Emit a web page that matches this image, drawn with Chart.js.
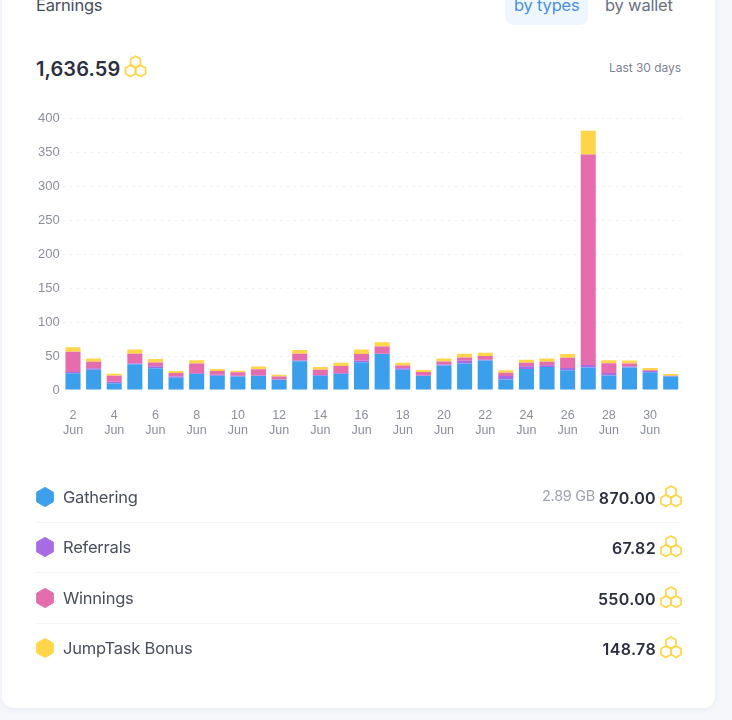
<!DOCTYPE html>
<html>
<head>
<meta charset="utf-8">
<title>Earnings</title>
<script src="https://cdn.jsdelivr.net/npm/chart.js@4/dist/chart.umd.min.js"></script>
<style>
  html, body { margin: 0; padding: 0; }
  body { width: 732px; height: 720px; background: #f5f7fb; overflow: hidden; position: relative; font-family: Inter, "Noto Sans", sans-serif; }
  .card { position: absolute; left: 2px; top: -20px; width: 713px; height: 728px; background: #fff; border-radius: 12px; box-shadow: 0 2px 6px rgba(40,60,110,.06); }
  .t { position: absolute; white-space: nowrap; line-height: 1; }
  .title { left: 36px; top: -3px; font-size: 16.5px; color: #4a4f5e; font-weight: 400; letter-spacing: -.2px; }
  .tab { left: 505px; top: -10px; width: 83px; height: 35px; background: #eff7fe; border-radius: 8px; position: absolute; }
  .by1 { left: 514px; top: -3px; font-size: 16.5px; color: #4c8fdf; letter-spacing: -.2px; }
  .by2 { left: 605px; top: -3px; font-size: 16.5px; color: #6b7080; letter-spacing: -.2px; }
  .total { left: 36px; top: 57px; font: 600 20px Inter, sans-serif; color: #2b2f3f; letter-spacing: .1px; }
  .period { right: 51px; top: 62px; font-size: 12px; color: #7e8494; letter-spacing: -.05px; }
  #chart { position: absolute; left: 0; top: 100px; }
  .name { left: 63px; font-size: 16.5px; color: #4a4f5e; letter-spacing: -.22px; }
  .val { right: 76px; font: 600 16px Inter, sans-serif; color: #2b2f3f; letter-spacing: .35px; }
  .gb { right: 137px; top: 489px; font-size: 14.5px; color: #a0a4b0; letter-spacing: -.3px; }
  .rule { position: absolute; left: 36px; width: 645px; height: 1px; background: #f3f4f7; }
  svg { position: absolute; overflow: visible; }
</style>
</head>
<body>
<div class="card"></div>
<div class="tab"></div>
<div class="t title">Earnings</div>
<div class="t by1">by types</div>
<div class="t by2">by wallet</div>
<div class="t total">1,636.59</div>
<div class="t period">Last 30 days</div>
<canvas id="chart" width="732" height="350"></canvas>
<div id="rows"></div>
<script>
// Daily earnings, 2 to 31 June, one list per source
const days = [2,3,4,5,6,7,8,9,10,11,12,13,14,15,16,17,18,19,20,21,22,23,24,25,26,27,28,29,30,31];
const monthName = 'Jun';
const gathering = [24.5,30,10,38,32,18,23.5,21,20,20.5,15,42.5,21,23.5,41,53,30,20.5,36,39,43.5,15.5,31,34,29,33,21.5,33,26,20];
const referrals = [2,2,2,1,3,2,1,1.5,1,1,0.5,1,1,1,2,0.5,2,1,1.5,4,1,5,4,2.5,3.5,4,3.5,1.5,2,0.5];
const winnings = [30,9.5,9,14.5,5.5,5,14.5,5.5,5,9,4.5,10,8,11,10,10.5,4,5,4.5,5,5.5,5,5,5,15,310,14.5,4.5,1,0.5];
const bonus = [6.4,5,3,6,5,3,5,3,2.5,4,2.5,5.5,4,4.5,6.5,6.5,4,3,4.5,5.5,5,3.5,4.5,5,5.5,35,4.5,4.5,3.5,2.5];
const yTicks = [0,50,100,150,200,250,300,350,400];

// Summary rows under the chart
const rowNames = ['Gathering','Referrals','Winnings','JumpTask Bonus'];
const rowTotals = ['870.00','67.82','550.00','148.78'];
const rowColors = ['#3c9fec','#a76be3','#e56dae','#ffd54a'];
const rowCentres = [497,547,598,648];
const dataUsage = '2.89 GB';

const COIN = '#ffd54a';

function hexPoints(cx, cy, r) {
  const pts = [];
  for (let i = 0; i < 6; i++) {
    const a = Math.PI / 3 * i - Math.PI / 2;
    pts.push((cx + r * Math.cos(a)).toFixed(2) + ',' + (cy + r * Math.sin(a)).toFixed(2));
  }
  return pts.join(' ');
}

// Token mark: three outlined hexagons stacked in a triangle
function coinIcon(cx, cy) {
  const r = 5.7, w = r * Math.cos(Math.PI / 6) + 0.2;
  const polys = [[cx, cy - 4.6], [cx - w, cy + 4.4], [cx + w, cy + 4.4]]
    .map(p => `<polygon points="${hexPoints(p[0], p[1], r)}" fill="none" stroke="${COIN}" stroke-width="1.7" stroke-linejoin="round"/>`)
    .join('');
  return `<svg width="732" height="720" style="left:0;top:0">${polys}</svg>`;
}

const rows = document.getElementById('rows');
let html = coinIcon(135.5, 66.5);
rowNames.forEach((name, i) => {
  const y = rowCentres[i];
  html += `<svg width="732" height="720" style="left:0;top:0"><polygon points="${hexPoints(45, y, 9.6)}" fill="${rowColors[i]}" stroke="${rowColors[i]}" stroke-width="1" stroke-linejoin="round"/></svg>`;
  html += `<div class="t name" style="top:${y - 8.5}px">${name}</div>`;
  html += `<div class="t val" style="top:${y - 9}px">${rowTotals[i]}</div>`;
  html += coinIcon(671, y - 0.7);
  if (i < rowNames.length - 1) html += `<div class="rule" style="top:${y + 25}px"></div>`;
});
html += `<div class="t gb">${dataUsage}</div>`;
rows.innerHTML = html;

new Chart(document.getElementById('chart'), {
  type: 'bar',
  data: {
    labels: days,
    datasets: [
      { label: rowNames[0], data: gathering, backgroundColor: rowColors[0] },
      { label: rowNames[1], data: referrals, backgroundColor: rowColors[1] },
      { label: rowNames[2], data: winnings, backgroundColor: rowColors[2] },
      { label: rowNames[3], data: bonus, backgroundColor: rowColors[3] }
    ]
  },
  options: {
    responsive: false,
    animation: false,
    layout: { padding: { top: 18.5, right: 51, left: 0, bottom: 0 } },
    plugins: { legend: { display: false }, tooltip: { enabled: false } },
    datasets: { bar: { barPercentage: 0.73, categoryPercentage: 1 } },
    scales: {
      x: {
        stacked: true,
        afterFit: s => { s.height = 60; },
        grid: { display: false },
        border: { display: false },
        ticks: {
          autoSkip: false,
          maxRotation: 0,
          padding: 10,
          color: '#8b8f9c',
          font: { family: '"Liberation Sans", Arial, sans-serif', size: 12.5, lineHeight: 1.2 },
          callback: (v, i) => i % 2 === 0 ? [String(days[i]), monthName] : ''
        }
      },
      y: {
        stacked: true,
        min: 0,
        max: 400,
        afterFit: s => { s.width = 62.7; },
        afterBuildTicks: s => { s.ticks = yTicks.map(value => ({ value })); },
        border: { display: false, dash: [2, 5] },
        grid: { color: c => c.tick.value === 0 ? 'rgba(0,0,0,0)' : '#eceef1', drawTicks: false, lineWidth: 1 },
        ticks: {
          padding: 3,
          color: '#8b8f9c',
          font: { family: '"Liberation Sans", Arial, sans-serif', size: 13 }
        }
      }
    }
  }
});
</script>
</body>
</html>
